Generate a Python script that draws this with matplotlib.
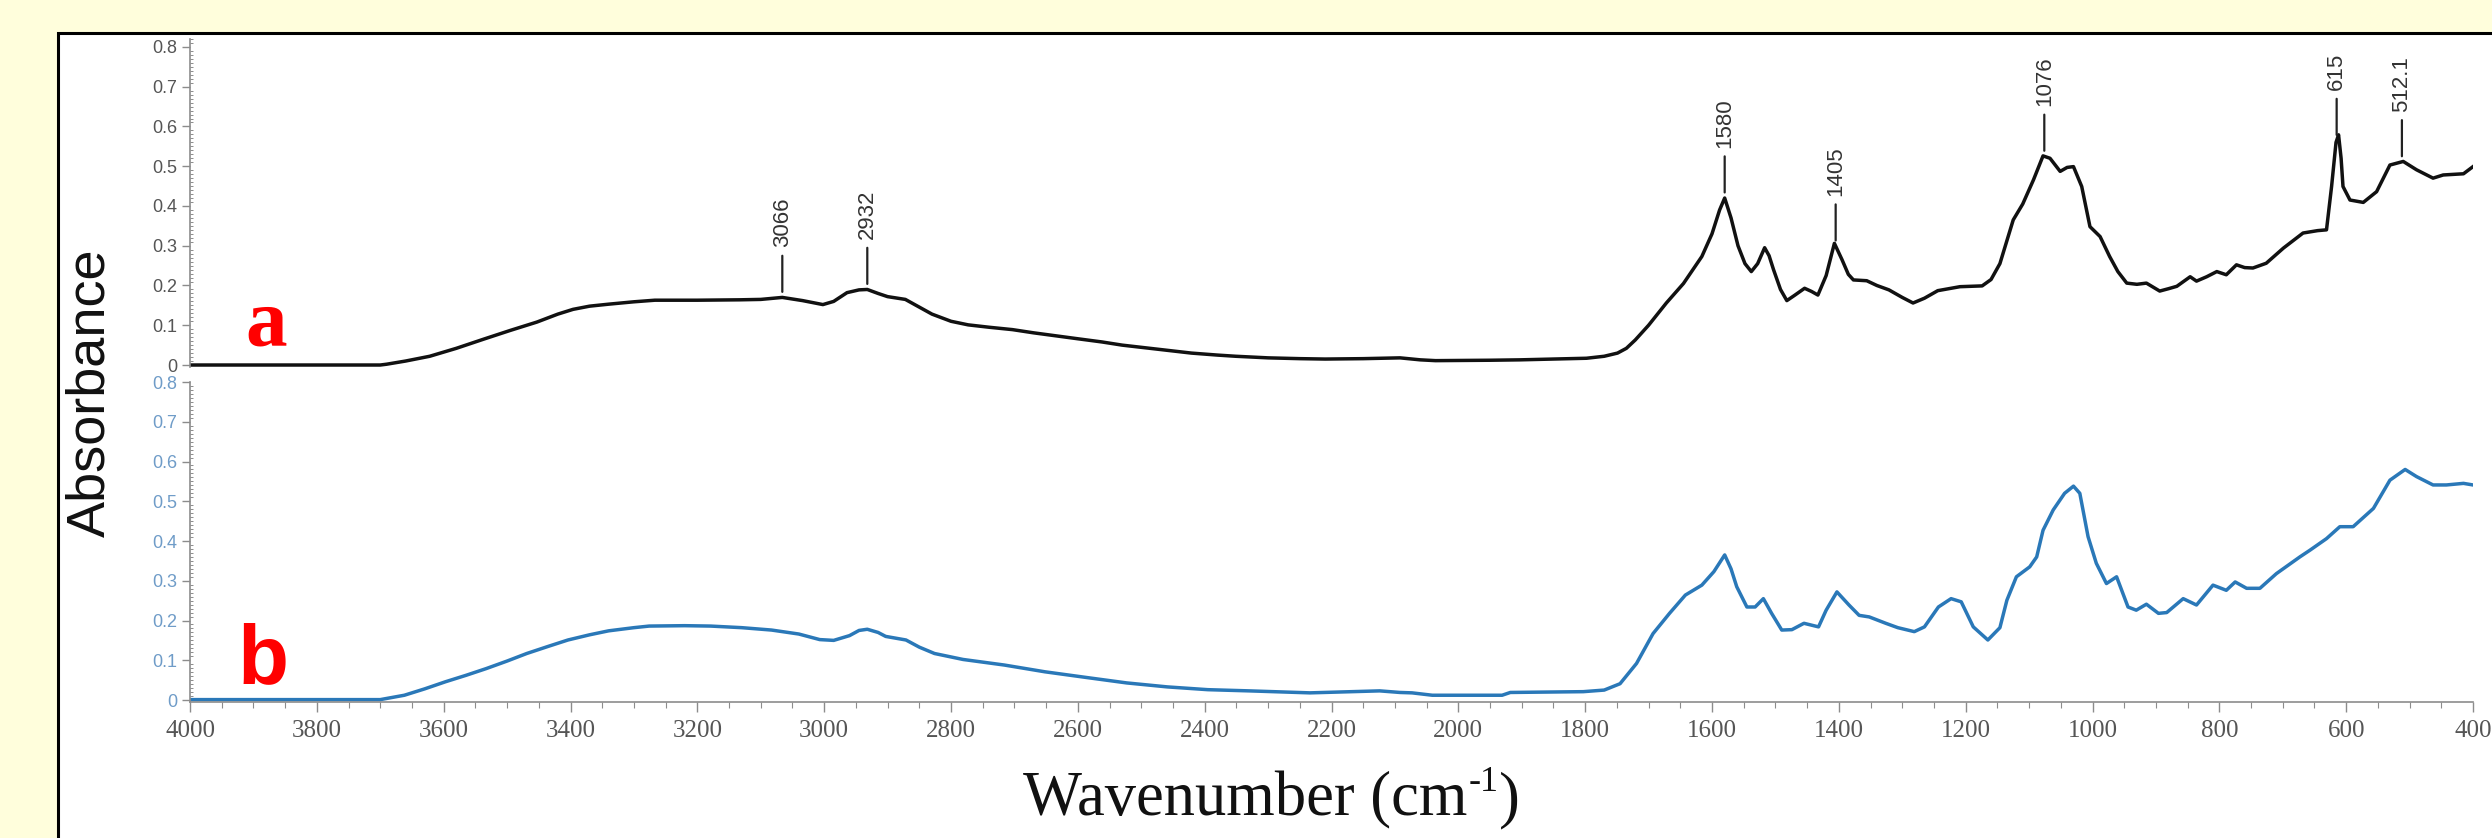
import numpy as np
import matplotlib
matplotlib.use('Agg')
import matplotlib.pyplot as plt
from matplotlib.patches import Rectangle
from matplotlib.ticker import MultipleLocator

# spectre a (noir) : nombre d'onde / absorbance
wn_a = [4000, 3800, 3700, 3690, 3660, 3622, 3580, 3537, 3495, 3453, 3420, 3396,
        3370, 3340, 3300, 3267, 3200, 3133, 3100, 3066, 3034, 3002, 2985, 2964,
        2945, 2932, 2915, 2900, 2872, 2855, 2830, 2800, 2773, 2740, 2703, 2670,
        2633, 2600, 2562, 2530, 2492, 2460, 2421, 2380, 2351, 2300, 2250, 2210,
        2150, 2092, 2060, 2036, 1950, 1903, 1850, 1798, 1770, 1749, 1735, 1721,
        1700, 1672, 1645, 1616, 1600, 1588, 1580, 1570, 1559, 1548, 1538, 1528,
        1517, 1510, 1503, 1492, 1482, 1470, 1454, 1443, 1433, 1420, 1407, 1395,
        1385, 1377, 1356, 1340, 1321, 1300, 1283, 1265, 1244, 1209, 1174, 1160,
        1146, 1125, 1110, 1093, 1078, 1067, 1051, 1040, 1030, 1017, 1004, 988,
        973, 960, 946, 930, 915, 894, 880, 867, 846, 836, 820, 804, 789, 773,
        760, 747, 726, 699, 668, 645, 631, 623, 616, 612, 608, 605, 594, 573,
        552, 531, 510, 489, 463, 447, 415, 400]
abs_a = [0.0, 0.0, 0.0, 0.002, 0.010, 0.022, 0.042, 0.065, 0.087, 0.108, 0.128, 0.140,
         0.148, 0.153, 0.159, 0.163, 0.163, 0.164, 0.165, 0.170, 0.162, 0.152, 0.160, 0.182,
         0.189, 0.190, 0.180, 0.172, 0.165, 0.150, 0.128, 0.110, 0.101, 0.095, 0.089, 0.081,
         0.073, 0.066, 0.058, 0.050, 0.043, 0.037, 0.030, 0.025, 0.022, 0.018, 0.016, 0.015,
         0.016, 0.018, 0.013, 0.011, 0.012, 0.013, 0.015, 0.017, 0.022, 0.030, 0.042, 0.063,
         0.100, 0.156, 0.205, 0.273, 0.330, 0.390, 0.420, 0.370, 0.300, 0.255, 0.235, 0.255,
         0.295, 0.275, 0.240, 0.190, 0.162, 0.175, 0.193, 0.185, 0.176, 0.225, 0.306, 0.265,
         0.228, 0.214, 0.212, 0.200, 0.189, 0.170, 0.156, 0.168, 0.187, 0.197, 0.199, 0.215,
         0.255, 0.365, 0.405, 0.466, 0.526, 0.520, 0.487, 0.497, 0.499, 0.449, 0.348, 0.323,
         0.273, 0.235, 0.206, 0.203, 0.206, 0.186, 0.192, 0.198, 0.222, 0.211, 0.222, 0.235,
         0.227, 0.252, 0.245, 0.244, 0.256, 0.294, 0.332, 0.338, 0.340, 0.449, 0.560, 0.579,
         0.520, 0.449, 0.415, 0.409, 0.436, 0.503, 0.512, 0.491, 0.470, 0.478, 0.481, 0.499]

# spectre b (bleu)
wn_b = [4000, 3700, 3662, 3630, 3597, 3565, 3533, 3500, 3469, 3435, 3404, 3370,
        3340, 3300, 3276, 3220, 3179, 3130, 3083, 3040, 3007, 2985, 2960, 2945,
        2932, 2915, 2903, 2871, 2850, 2826, 2781, 2716, 2652, 2588, 2523, 2459,
        2395, 2330, 2234, 2124, 2092, 2073, 2041, 1931, 1918, 1803, 1770, 1745,
        1719, 1693, 1667, 1642, 1616, 1597, 1580, 1570, 1561, 1545, 1532, 1519,
        1506, 1490, 1474, 1455, 1432, 1420, 1403, 1384, 1368, 1352, 1326, 1307,
        1281, 1265, 1243, 1223, 1207, 1188, 1165, 1146, 1135, 1120, 1099, 1088,
        1078, 1062, 1044, 1030, 1020, 1007, 994, 978, 962, 944, 931, 915,
        896, 883, 857, 836, 810, 789, 775, 757, 736, 710, 673, 657,
        631, 610, 589, 557, 531, 507, 489, 463, 442, 415, 400]
abs_b = [0.001, 0.001, 0.012, 0.028, 0.046, 0.062, 0.079, 0.098, 0.117, 0.135, 0.151, 0.164,
         0.174, 0.182, 0.186, 0.187, 0.186, 0.182, 0.176, 0.166, 0.152, 0.150, 0.162, 0.175,
         0.178, 0.170, 0.160, 0.151, 0.133, 0.117, 0.102, 0.088, 0.071, 0.057, 0.043, 0.033,
         0.026, 0.023, 0.018, 0.023, 0.019, 0.018, 0.012, 0.012, 0.019, 0.021, 0.025, 0.041,
         0.092, 0.167, 0.218, 0.264, 0.289, 0.323, 0.365, 0.330, 0.285, 0.234, 0.234, 0.255,
         0.218, 0.176, 0.177, 0.193, 0.184, 0.226, 0.272, 0.239, 0.213, 0.209, 0.193, 0.182,
         0.172, 0.184, 0.234, 0.255, 0.247, 0.184, 0.151, 0.182, 0.251, 0.310, 0.335, 0.360,
         0.427, 0.478, 0.520, 0.538, 0.520, 0.411, 0.344, 0.293, 0.310, 0.234, 0.226, 0.241,
         0.218, 0.220, 0.255, 0.239, 0.289, 0.276, 0.297, 0.281, 0.281, 0.318, 0.360, 0.377,
         0.406, 0.436, 0.436, 0.482, 0.553, 0.580, 0.562, 0.541, 0.541, 0.545, 0.541]

# pics annotes sur le spectre a
peak_wn = [3066, 2932, 1580, 1405, 1076, 615, 512.1]
peak_lbl = ['3066', '2932', '1580', '1405', '1076', '615', '512.1']

x_ticks = list(range(4000, 399, -200))
y_ticks = [0, 0.1, 0.2, 0.3, 0.4, 0.5, 0.6, 0.7, 0.8]
y_lbls = ['0', '0.1', '0.2', '0.3', '0.4', '0.5', '0.6', '0.7', '0.8']

W, H = 2492, 838
plt.rcParams['font.family'] = ['Liberation Sans', 'DejaVu Sans']

fig = plt.figure(figsize=(W / 100, H / 100), dpi=100)
fig.patch.set_facecolor('#fffedc')

# cadre blanc a bord noir
fig.patches.append(Rectangle((58 / W, -0.02), 1.0, (H - 33) / H + 0.02,
                             transform=fig.transFigure, facecolor='white',
                             edgecolor='black', lw=2.2, zorder=-5))

grey = '#8c8c8c'
blue_lbl = '#6f9cc8'


def style_y(ax, lblcolor):
    ax.set_yticks(y_ticks)
    ax.set_yticklabels(y_lbls)
    ax.yaxis.set_minor_locator(MultipleLocator(0.01))
    ax.tick_params(axis='y', which='major', length=6, width=1, color=grey,
                   labelsize=13, labelcolor=lblcolor, pad=3)
    ax.tick_params(axis='y', which='minor', length=2.5, width=0.7, color=grey,
                   direction='in')
    ax.spines['left'].set_color(grey)
    ax.spines['left'].set_linewidth(1.2)
    for s in ['top', 'right']:
        ax.spines[s].set_visible(False)
    ax.patch.set_alpha(0)


# spectre b en bas
ax_b = fig.add_axes([190 / W, 1 - 702 / H, 2283 / W, (702 - 382) / H])
ax_b.plot(wn_b, abs_b, color='#2a78b8', lw=2.5)
ax_b.set_xlim(4000, 400)
ax_b.set_ylim(-0.005, 0.8)
style_y(ax_b, blue_lbl)
ax_b.set_xticks(x_ticks)
ax_b.xaxis.set_minor_locator(MultipleLocator(50))
ax_b.tick_params(axis='x', which='major', length=7, width=1, color=grey,
                 labelsize=18, labelcolor='#555555', pad=6)
ax_b.tick_params(axis='x', which='minor', length=4, width=0.8, color=grey)
for t in ax_b.get_xticklabels():
    t.set_family(['Liberation Serif', 'DejaVu Serif'])
ax_b.spines['bottom'].set_color(grey)
ax_b.spines['bottom'].set_linewidth(1.2)

# spectre a en haut
ax_a = fig.add_axes([190 / W, 1 - 367 / H, 2283 / W, (367 - 39) / H])
ax_a.plot(wn_a, abs_a, color='#111111', lw=2.5)
ax_a.set_xlim(4000, 400)
ax_a.set_ylim(-0.005, 0.82)
style_y(ax_a, '#555555')
ax_a.spines['bottom'].set_visible(False)
ax_a.set_xticks([])

wa = np.array(wn_a)[::-1]
aa = np.array(abs_a)[::-1]
for w, lbl in zip(peak_wn, peak_lbl):
    y0 = np.interp(w, wa, aa)
    ax_a.annotate(lbl, xy=(w, y0), xytext=(0, 50), textcoords='offset pixels',
                  rotation=90, ha='center', va='bottom', fontsize=16,
                  color='#333333',
                  arrowprops=dict(arrowstyle='-', color='#222222', lw=1.6,
                                  shrinkA=4, shrinkB=4))

# etiquettes a / b
fig.text(266 / W, 1 - 345 / H, 'a', color='#ff0000', fontsize=60,
         fontweight='bold', family=['Liberation Serif', 'DejaVu Serif'],
         ha='center', va='baseline')
fig.text(263 / W, 1 - 683 / H, 'b', color='#ff0000', fontsize=60,
         fontweight='bold', ha='center', va='baseline')

# titres des axes
fig.text(90 / W, 1 - 393 / H, 'Absorbance', rotation=90, fontsize=39,
         ha='center', va='center', color='#111111')
serif = ['Liberation Serif', 'DejaVu Serif']
xl = fig.text(1245 / W, 1 - 800 / H, 'Wavenumber (cm', fontsize=45,
              family=serif, ha='center', va='center', color='#111111')
# exposant -1 puis parenthese, places a la suite du texte
fig.canvas.draw()
bb = xl.get_window_extent()
sup = fig.text(bb.x1 + 1, bb.y1 - 12, '-1', fontsize=26, family=serif,
               ha='left', va='center', color='#111111',
               transform=None)
bb2 = sup.get_window_extent()
fig.text(bb2.x1 + 1, (bb.y0 + bb.y1) / 2, ')', fontsize=45, family=serif,
         ha='left', va='center', color='#111111', transform=None)

fig.savefig('out.png', dpi=100, facecolor=fig.get_facecolor())
